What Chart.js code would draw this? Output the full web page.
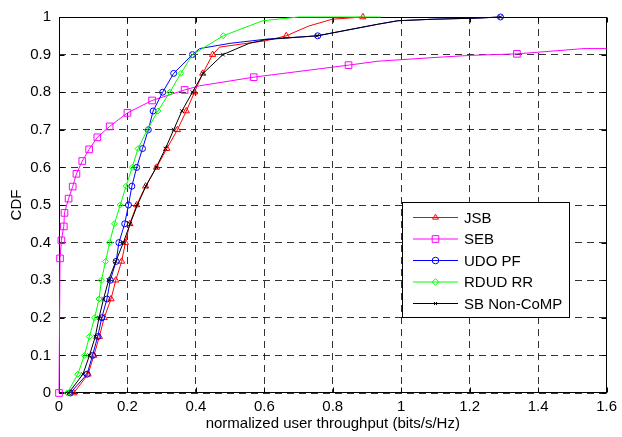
<!DOCTYPE html>
<html>
<head>
<meta charset="utf-8">
<script src="https://cdn.jsdelivr.net/npm/chart.js@4.4.1/dist/chart.umd.min.js"></script>
<style>
  html, body { margin: 0; padding: 0; background: #fff; }
  canvas { display: block; }
</style>
</head>
<body>
<canvas id="cdfChart" width="622" height="437"></canvas>
<script>
// throughput CDF per scheme: marker points, plus a few extra path points between them
const seriesNames = ['JSB', 'SEB', 'UDO PF', 'RDUD RR', 'SB Non-CoMP'];

const jsbRate = [0.043, 0.085, 0.102, 0.118, 0.132, 0.152, 0.166, 0.183, 0.194, 0.207, 0.227,
                 0.253, 0.285, 0.315, 0.346, 0.372, 0.396, 0.420, 0.449, 0.664, 0.888];
const jsbCdf = [0, 0.05, 0.1, 0.15, 0.2, 0.25, 0.3, 0.35, 0.4, 0.45, 0.5,
                0.55, 0.6, 0.65, 0.7, 0.75, 0.8, 0.85, 0.9, 0.95, 1];
const jsbPathRate = [0.469, 0.605, 0.730, 0.798];
const jsbPathCdf = [0.920, 0.937, 0.976, 0.994];

const sebRate = [0, 0.003, 0.007, 0.014, 0.016, 0.028, 0.040, 0.051, 0.068, 0.088, 0.112,
                 0.148, 0.200, 0.272, 0.367, 0.569, 0.846, 1.338];
const sebCdf = [0, 0.358, 0.406, 0.443, 0.479, 0.517, 0.549, 0.583, 0.617, 0.648, 0.680,
                0.709, 0.745, 0.778, 0.806, 0.840, 0.872, 0.902];
const sebPathRate = [0.411, 0.933, 1.127, 1.204, 1.534, 1.6];
const sebPathCdf = [0.817, 0.8825, 0.894, 0.898, 0.916, 0.916];

const udoRate = [0.033, 0.082, 0.098, 0.113, 0.125, 0.140, 0.150, 0.167, 0.175, 0.192, 0.203,
                 0.213, 0.227, 0.244, 0.261, 0.275, 0.303, 0.335, 0.390, 0.756, 1.290];
const udoCdf = jsbCdf;
const udoPathRate = [0.411, 0.500, 0.605, 0.933, 0.990, 1.090, 1.220];
const udoPathCdf = [0.916, 0.930, 0.941, 0.981, 0.990, 0.994, 0.997];

const rdudRate = [0.024, 0.055, 0.074, 0.089, 0.104, 0.117, 0.124, 0.136, 0.148, 0.162, 0.179,
                  0.196, 0.214, 0.231, 0.258, 0.289, 0.324, 0.356, 0.390, 0.480];
const rdudCdf = [0, 0.05, 0.1, 0.15, 0.2, 0.25, 0.3, 0.35, 0.4, 0.45, 0.5,
                 0.55, 0.6, 0.65, 0.7, 0.75, 0.8, 0.85, 0.9, 0.95];
const rdudPathRate = [0.595, 0.700, 0.940];
const rdudPathCdf = [0.990, 1, 1];

const sbRate = [0.028, 0.070, 0.089, 0.106, 0.117, 0.130, 0.145, 0.166, 0.188, 0.208, 0.229,
                0.254, 0.284, 0.311, 0.335, 0.359, 0.390, 0.421, 0.479, 0.754, 1.290];
const sbCdf = jsbCdf;
const sbPathRate = [0.556, 0.605, 0.933, 0.990, 1.090, 1.220];
const sbPathCdf = [0.930, 0.940, 0.981, 0.990, 0.994, 0.997];

const rateTicks = [0, 0.2, 0.4, 0.6, 0.8, 1, 1.2, 1.4, 1.6];
const cdfTicks = [0, 0.1, 0.2, 0.3, 0.4, 0.5, 0.6, 0.7, 0.8, 0.9, 1];

const FONT = { family: '"Liberation Sans", Arial, sans-serif', size: 15 };

function buildPoints(rate, cdf, pathRate, pathCdf) {
  const pts = rate.map((x, i) => ({ x, y: cdf[i], m: true }));
  pathRate.forEach((x, i) => pts.push({ x, y: pathCdf[i], m: false }));
  return pts.sort((a, b) => a.x - b.x || a.y - b.y);
}

// later series are painted over earlier ones
function series(idx, pts, color, style, radius) {
  return {
    label: seriesNames[idx],
    order: seriesNames.length - idx,
    data: pts,
    borderColor: color,
    backgroundColor: 'rgba(0,0,0,0)',
    borderWidth: 1,
    pointStyle: style,
    pointBorderColor: color,
    pointBackgroundColor: 'rgba(0,0,0,0)',
    pointBorderWidth: 1,
    pointRadius: ctx => (ctx.raw && ctx.raw.m ? radius : 0),
    pointHoverRadius: 0,
    tension: 0,
    clip: false
  };
}

const datasets = [
  series(0, buildPoints(jsbRate, jsbCdf, jsbPathRate, jsbPathCdf), '#ff0000', 'triangle', 3.6),
  series(1, buildPoints(sebRate, sebCdf, sebPathRate, sebPathCdf), '#ff00ff', 'rect', 4.7),
  series(2, buildPoints(udoRate, udoCdf, udoPathRate, udoPathCdf), '#0000ff', 'circle', 3),
  series(3, buildPoints(rdudRate, rdudCdf, rdudPathRate, rdudPathCdf), '#00ff00', 'rectRot', 3),
  series(4, buildPoints(sbRate, sbCdf, sbPathRate, sbPathCdf), '#000000', 'crossRot', 2.6)
];

// solid box round the axes with short inward ticks on every side
const axesFrame = {
  id: 'axesFrame',
  beforeDatasetsDraw(chart) {
    const { ctx, chartArea: a, scales: { x, y } } = chart;
    const L = Math.round(a.left) + 0.5, R = Math.round(a.right) - 0.5;
    const T = Math.round(a.top) + 0.5, B = Math.round(a.bottom) - 0.5;
    ctx.save();
    ctx.strokeStyle = '#000';
    ctx.lineWidth = 1;
    ctx.setLineDash([]);
    ctx.strokeRect(L, T, R - L, B - T);
    ctx.beginPath();
    rateTicks.forEach(v => {
      const px = Math.round(x.getPixelForValue(v)) + 0.5;
      ctx.moveTo(px, B); ctx.lineTo(px, B - 5);
      ctx.moveTo(px, T); ctx.lineTo(px, T + 5);
    });
    cdfTicks.forEach(v => {
      const py = Math.round(y.getPixelForValue(v)) + 0.5;
      ctx.moveTo(L, py); ctx.lineTo(L + 5, py);
      ctx.moveTo(R, py); ctx.lineTo(R - 5, py);
    });
    ctx.stroke();
    ctx.restore();
  }
};

// boxed legend inside the plot, lower right
const boxLegend = {
  id: 'boxLegend',
  afterDraw(chart) {
    const ctx = chart.ctx;
    const left = 402.5, top = 202.5, w = 167, h = 115;
    const rowY = [217.5, 239, 260.5, 282, 303.5];
    ctx.save();
    ctx.fillStyle = '#fff';
    ctx.fillRect(left, top, w, h);
    ctx.strokeStyle = '#000';
    ctx.lineWidth = 1;
    ctx.strokeRect(left, top, w, h);
    ctx.font = `${FONT.size}px ${FONT.family}`;
    ctx.textBaseline = 'middle';
    chart.data.datasets.forEach((ds, i) => {
      const yy = rowY[i];
      ctx.strokeStyle = ds.borderColor;
      ctx.beginPath();
      ctx.moveTo(413, yy);
      ctx.lineTo(458, yy);
      ctx.stroke();
      const r = ds.pointStyle === 'crossRot' ? 2.2 : (ds.pointStyle === 'rect' ? 4.7 : 3.3);
      ctx.fillStyle = 'rgba(0,0,0,0)';
      Chart.helpers.drawPoint(ctx, {
        pointStyle: ds.pointStyle, radius: r, rotation: 0, borderWidth: 1
      }, 435.5, yy);
      ctx.fillStyle = '#000';
      ctx.fillText(ds.label, 464, yy + 1);
    });
    ctx.restore();
  }
};

new Chart(document.getElementById('cdfChart'), {
  type: 'line',
  data: { datasets },
  options: {
    responsive: false,
    animation: false,
    events: [],
    layout: { padding: { top: 11, right: 12, left: 0, bottom: 0 } },
    plugins: { legend: { display: false }, tooltip: { enabled: false } },
    scales: {
      x: {
        type: 'linear',
        min: 0,
        max: 1.6,
        afterBuildTicks: s => { s.ticks = rateTicks.map(v => ({ value: v })); },
        afterFit: s => { s.height = 44; },
        grid: { color: 'rgba(0,0,0,0.8)', lineWidth: 1, drawTicks: false },
        border: { display: false, dash: [7, 5] },
        ticks: {
          color: '#000', font: FONT, padding: 5, maxRotation: 0,
          callback: v => String(+v.toFixed(1))
        },
        title: {
          display: true, text: 'normalized user throughput (bits/s/Hz)',
          color: '#000', font: FONT, padding: { top: 0, bottom: 4 }
        }
      },
      y: {
        type: 'linear',
        min: 0,
        max: 1,
        afterBuildTicks: s => { s.ticks = cdfTicks.map(v => ({ value: v })); },
        afterFit: s => { s.width = 59; },
        grid: { color: 'rgba(0,0,0,0.8)', lineWidth: 1, drawTicks: false },
        border: { display: false, dash: [7, 5] },
        ticks: {
          color: '#000', font: FONT, padding: 8,
          callback: v => String(+v.toFixed(1))
        },
        title: {
          display: true, text: 'CDF',
          color: '#000', font: FONT, padding: { top: 8, bottom: 0 }
        }
      }
    }
  },
  plugins: [axesFrame, boxLegend]
});
</script>
</body>
</html>
